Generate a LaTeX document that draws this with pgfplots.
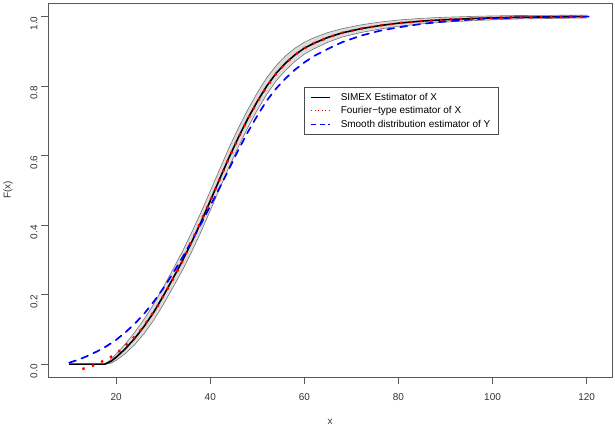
\documentclass[border=0pt]{standalone}
\usepackage{fontspec}
\setmainfont{Liberation Sans}
\usepackage{pgfplots}
\pgfplotsset{compat=1.18}
\usepgfplotslibrary{fillbetween}
\begin{document}
\begin{tikzpicture}
\begin{axis}[
  at={(48bp,49bp)}, anchor=south west,
  scale only axis, width=564bp, height=374bp,
  xmin=5.5, xmax=125.4, ymin=-0.037, ymax=1.039,
  axis line style={black!65, line width=0.75bp},
  every tick/.style={black!65, line width=0.75bp},
  tick align=outside, tick pos=left, major tick length=7bp,
  xtick={20,40,60,80,100,120},
  ytick={0,0.2,0.4,0.6,0.8,1.0},
  yticklabel style={rotate=90, xshift=-7bp, /pgf/number format/fixed, /pgf/number format/fixed zerofill, /pgf/number format/precision=1},
  /pgf/number format/assume math mode=true,
  tick label style={font=\fontsize{10}{12}\selectfont, text=black!80},
  label style={font=\fontsize{10}{12}\selectfont, text=black!80},
  xlabel={x}, ylabel={F(x)},
  xlabel style={at={(axis description cs:0.5,0)}, anchor=center, yshift=-45bp},
  ylabel style={at={(axis description cs:0,0.5)}, anchor=center, yshift=40bp},
  xticklabel style={yshift=-6bp},
  legend style={at={(0.454,0.775)}, anchor=north west, draw=black!70, line width=0.6bp,
    fill=white, font=\fontsize{10}{12}\selectfont, inner xsep=6bp, inner ysep=3.5bp,
    row sep=1bp, column sep=8bp, cells={anchor=west}},
  legend image code/.code={\draw[#1] (0bp,0bp) -- (19bp,0bp);},
]
% SIMEX band
\addplot[name path=U, draw=none, forget plot] coordinates {
(17.6,0) (19,0.015) (20,0.029) (22,0.059) (24,0.093) (26,0.131) (28,0.173) (30,0.221)
(32,0.271) (34,0.322) (36,0.378) (38,0.436) (40,0.498) (42,0.561) (44,0.623) (46,0.680)
(48,0.733) (50,0.781) (52,0.824) (54,0.859) (56,0.887) (58,0.909) (60,0.926) (62,0.939)
(65,0.954) (68,0.965) (72,0.976) (76,0.984) (80,0.990) (85,0.995) (90,0.998) (97,1.001)
(105,1.003) (120,1.004)};
\addplot[name path=L, draw=none, forget plot] coordinates {
(17.6,0) (19,0.003) (20,0.011) (22,0.031) (24,0.057) (26,0.089) (28,0.127) (30,0.171)
(32,0.219) (34,0.268) (36,0.322) (38,0.380) (40,0.442) (42,0.505) (44,0.567) (46,0.626)
(48,0.681) (50,0.731) (52,0.776) (54,0.815) (56,0.845) (58,0.871) (60,0.892) (62,0.907)
(65,0.926) (68,0.941) (72,0.954) (76,0.964) (80,0.972) (85,0.979) (90,0.984) (97,0.989)
(105,0.993) (120,0.996)};
\addplot[gray!28, forget plot] fill between[of=U and L];
\addplot[black!55, line width=0.6bp, forget plot] coordinates {
(17.6,0) (19,0.015) (20,0.029) (22,0.059) (24,0.093) (26,0.131) (28,0.173) (30,0.221)
(32,0.271) (34,0.322) (36,0.378) (38,0.436) (40,0.498) (42,0.561) (44,0.623) (46,0.680)
(48,0.733) (50,0.781) (52,0.824) (54,0.859) (56,0.887) (58,0.909) (60,0.926) (62,0.939)
(65,0.954) (68,0.965) (72,0.976) (76,0.984) (80,0.990) (85,0.995) (90,0.998) (97,1.001)
(105,1.003) (120,1.004)};
\addplot[black!55, line width=0.6bp, forget plot] coordinates {
(17.6,0) (19,0.003) (20,0.011) (22,0.031) (24,0.057) (26,0.089) (28,0.127) (30,0.171)
(32,0.219) (34,0.268) (36,0.322) (38,0.380) (40,0.442) (42,0.505) (44,0.567) (46,0.626)
(48,0.681) (50,0.731) (52,0.776) (54,0.815) (56,0.845) (58,0.871) (60,0.892) (62,0.907)
(65,0.926) (68,0.941) (72,0.954) (76,0.964) (80,0.972) (85,0.979) (90,0.984) (97,0.989)
(105,0.993) (120,0.996)};
% SIMEX estimator
\addplot[black, line width=1.6bp, forget plot] coordinates {
(10,0) (17.6,0) (19,0.009) (20,0.02) (22,0.045) (24,0.075) (26,0.11) (28,0.15) (30,0.196)
(32,0.245) (34,0.295) (36,0.35) (38,0.408) (40,0.47) (42,0.533) (44,0.595) (46,0.653)
(48,0.707) (50,0.756) (52,0.80) (54,0.837) (56,0.866) (58,0.89) (60,0.909) (62,0.923)
(65,0.94) (68,0.953) (72,0.965) (76,0.974) (80,0.981) (85,0.987) (90,0.991) (97,0.995)
(105,0.998) (120,1.0)};
% Smooth distribution estimator of Y
\addplot[blue, line width=1.7bp, dash pattern=on 7bp off 6bp, line cap=round, forget plot] coordinates {
(10,0.004) (12,0.013) (14,0.024) (16,0.037) (18,0.052) (20,0.07) (22,0.092) (24,0.117)
(26,0.146) (28,0.18) (30,0.218) (32,0.26) (34,0.305) (36,0.353) (38,0.403) (40,0.455)
(42,0.508) (44,0.562) (46,0.617) (48,0.668) (50,0.715) (52,0.758) (54,0.793) (56,0.822)
(58,0.847) (60,0.868) (62,0.886) (65,0.907) (68,0.926) (72,0.945) (76,0.959) (80,0.969)
(85,0.979) (90,0.986) (97,0.993) (105,0.997) (120.8,1.0)};
% Fourier-type estimator of X
\addplot[color=red, line width=2.4bp, dash pattern=on 2.4bp off 7.6bp, forget plot] coordinates {
(12.8,-0.014) (14.9,-0.005) (16.9,0.007) (18.8,0.02) (20.5,0.036) (22.2,0.056) (23.7,0.076)
(25.1,0.096) (26.5,0.122) (27.7,0.145) (28.9,0.169) (29.9,0.194) (31.0,0.219) (32.1,0.245)
(33.1,0.271) (34.1,0.297) (36,0.352) (38,0.41) (40,0.47) (42,0.532) (44,0.594) (46,0.652)
(48,0.706) (50,0.755) (52,0.798) (54,0.836) (56,0.866) (58,0.89) (60,0.909) (62,0.923)
(65,0.94) (68,0.953) (72,0.965) (76,0.974) (80,0.981) (85,0.987) (90,0.991) (97,0.995)
(105,0.998) (119.6,1.0)};
\addlegendimage{black, line width=1.3bp}
\addlegendentry{SIMEX Estimator of X}
\addlegendimage{color=red, line width=1bp, dash pattern=on 1.2bp off 2.3bp}
\addlegendentry{Fourier−type estimator of X}
\addlegendimage{blue, line width=1.4bp, dash pattern=on 5bp off 3.5bp}
\addlegendentry{Smooth distribution estimator of Y}
\end{axis}
\path (current axis.south west) ++(-48bp,-49bp) rectangle ++(615bp,426bp);
\end{tikzpicture}
\end{document}
